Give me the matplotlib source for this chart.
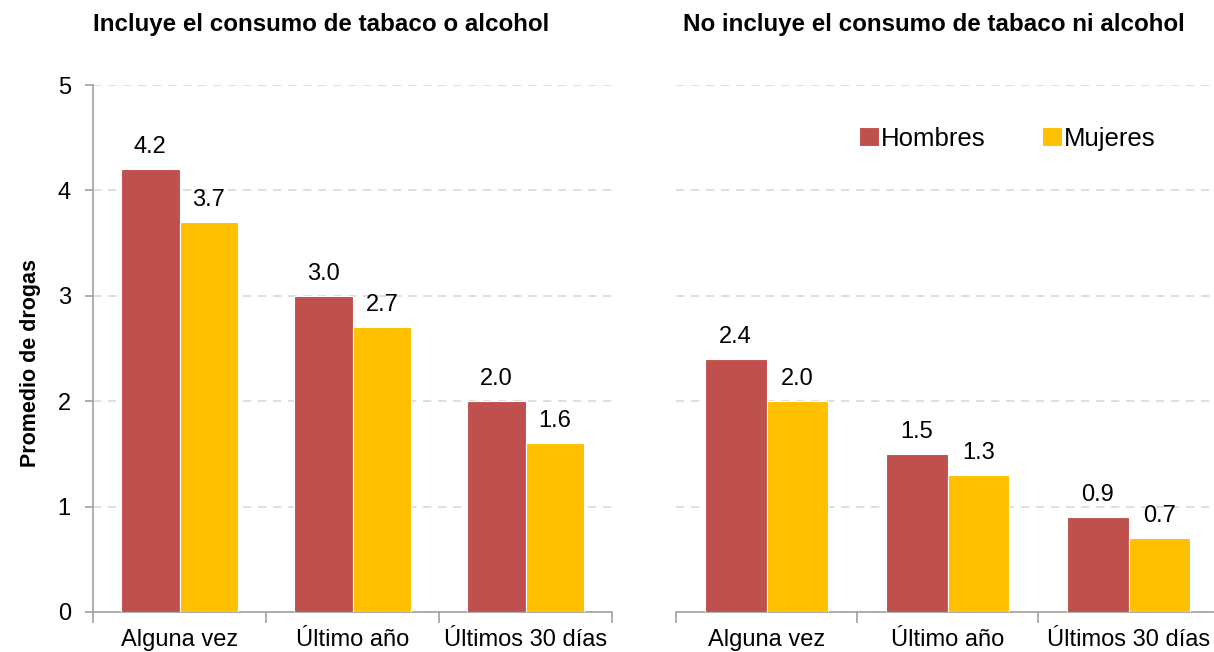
import numpy as np
import matplotlib.pyplot as plt

plt.rcParams['font.family'] = ['Liberation Sans', 'DejaVu Sans']

categorias = ["Alguna vez", "Último año", "Últimos 30 días"]
hombres_con = [4.2, 3.0, 2.0]
mujeres_con = [3.7, 2.7, 1.6]
hombres_sin = [2.4, 1.5, 0.9]
mujeres_sin = [2.0, 1.3, 0.7]
titulos = ["Incluye el consumo de tabaco o alcohol",
           "No incluye el consumo de tabaco ni alcohol"]

rojo = "#C0504D"
amarillo = "#FFC000"
gris = "#A0A0A0"

W, H = 1214, 652
fig = plt.figure(figsize=(W / 100, H / 100), dpi=100)
ax1 = fig.add_axes([93 / W, 40 / H, 519 / W, 527 / H])
ax2 = fig.add_axes([676 / W, 40 / H, 543 / W, 527 / H])

x = np.arange(len(categorias))
w = 0.34

for ax, h, m, t, tx in [(ax1, hombres_con, mujeres_con, titulos[0], 321),
                        (ax2, hombres_sin, mujeres_sin, titulos[1], 934)]:
    b1 = ax.bar(x - w / 2, h, w, color=rojo, edgecolor="white", linewidth=0.8,
                label="Hombres", zorder=3)
    b2 = ax.bar(x + w / 2, m, w, color=amarillo, edgecolor="white", linewidth=0.8,
                label="Mujeres", zorder=3)
    for bars in (b1, b2):
        ax.bar_label(bars, fmt="%.1f", padding=8, fontsize=17)
    ax.set_xlim(-0.5, 2.5)
    ax.set_ylim(0, 5)
    ax.set_yticks([0, 1, 2, 3, 4, 5])
    ax.grid(axis="y", color="#D9D9D9", linestyle=(0, (5, 4)), linewidth=1.2, zorder=0)
    ax.set_xticks([-0.5, 0.5, 1.5, 2.5])
    ax.set_xticklabels([])
    ax.set_xticks(x, minor=True)
    ax.set_xticklabels(categorias, minor=True, fontsize=17)
    ax.tick_params(axis="x", which="major", length=8, color=gris, width=1.2)
    ax.tick_params(axis="x", which="minor", length=0, pad=12)
    for s in ["top", "right"]:
        ax.spines[s].set_visible(False)
    ax.spines["bottom"].set_color(gris)
    ax.spines["bottom"].set_linewidth(1.2)
    fig.text(tx / W, 1 - 25 / H, t, ha="center", va="center",
             fontsize=17.4, fontweight="bold")

ax1.spines["left"].set_color(gris)
ax1.spines["left"].set_linewidth(1.2)
ax1.tick_params(axis="y", length=6, color=gris, width=1.2, labelsize=17, pad=10)
ax1.set_ylabel("Promedio de drogas", fontsize=15.5, fontweight="bold")
ax1.yaxis.set_label_coords(-0.1, 0.472)

ax2.spines["left"].set_visible(False)
ax2.tick_params(axis="y", length=0, labelleft=False)
ax2.legend(loc="upper left", bbox_to_anchor=(0.295, 0.965), ncol=2, frameon=False,
           fontsize=18.5, handlelength=0.75, handleheight=0.75, handletextpad=0.1,
           columnspacing=2.2)

fig.savefig("out.png", dpi=100)
